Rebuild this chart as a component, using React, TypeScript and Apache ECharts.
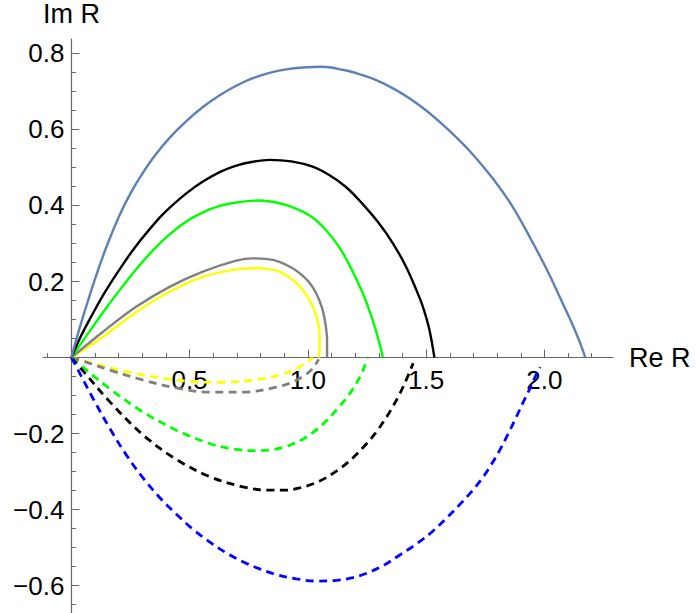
import React, { useEffect, useRef } from "react";
import * as echarts from "echarts";

// Tick values
const xMajorTicks = [0, 0.5, 1.0, 1.5, 2.0];
const xLabelValues = [0.5, 1.0, 1.5, 2.0];
const xMinorTicks = [-0.1, 0.1, 0.2, 0.3, 0.4, 0.6, 0.7, 0.8, 0.9, 1.1, 1.2, 1.3, 1.4, 1.6, 1.7, 1.8, 1.9, 2.1, 2.2];
const yMajorTicks = [-0.6, -0.4, -0.2, 0, 0.2, 0.4, 0.6, 0.8];
const yLabelValues = [-0.6, -0.4, -0.2, 0.2, 0.4, 0.6, 0.8];
const yMinorTicks = [-0.65, -0.55, -0.5, -0.45, -0.35, -0.3, -0.25, -0.15, -0.1, -0.05, 0.05, 0.1, 0.15, 0.25, 0.3, 0.35, 0.45, 0.5, 0.55, 0.65, 0.7, 0.75];

// Solid curves (upper half): [Re R, Im R]
const blueSolid = [
  [0, 0], [0.02, 0.046], [0.05, 0.109], [0.099, 0.205], [0.15, 0.294], [0.204, 0.375], [0.25, 0.432],
  [0.296, 0.48], [0.35, 0.529], [0.415, 0.578], [0.486, 0.622], [0.556, 0.659], [0.627, 0.69],
  [0.697, 0.715], [0.767, 0.735], [0.838, 0.749], [0.908, 0.758], [0.979, 0.763], [1.06, 0.765],
  [1.147, 0.757], [1.22, 0.745], [1.289, 0.73], [1.36, 0.708], [1.429, 0.682], [1.5, 0.65],
  [1.57, 0.613], [1.63, 0.578], [1.683, 0.544], [1.74, 0.503], [1.8, 0.456], [1.852, 0.41],
  [1.9, 0.36], [1.95, 0.303], [2.0, 0.244], [2.04, 0.193], [2.077, 0.143], [2.12, 0.085], [2.15, 0.04], [2.173, 0],
];
const blackSolid = [
  [0, 0], [0.04, 0.056], [0.077, 0.1], [0.14, 0.17], [0.218, 0.245], [0.275, 0.295], [0.373, 0.368],
  [0.415, 0.394], [0.486, 0.432], [0.556, 0.463], [0.627, 0.488], [0.697, 0.505], [0.767, 0.515],
  [0.838, 0.52], [0.93, 0.516], [1.02, 0.502], [1.09, 0.48], [1.162, 0.448], [1.23, 0.405],
  [1.302, 0.352], [1.36, 0.3], [1.415, 0.239], [1.455, 0.183], [1.486, 0.134], [1.513, 0.075], [1.535, 0],
];
const greenSolid = [
  [0, 0], [0.07, 0.063], [0.148, 0.131], [0.21, 0.182], [0.275, 0.233], [0.345, 0.282], [0.415, 0.324],
  [0.486, 0.358], [0.556, 0.382], [0.627, 0.399], [0.697, 0.408], [0.796, 0.413], [0.88, 0.406],
  [0.95, 0.392], [1.021, 0.368], [1.08, 0.333], [1.133, 0.29], [1.185, 0.232], [1.232, 0.169],
  [1.265, 0.115], [1.288, 0.07], [1.305, 0.032], [1.317, 0],
];
const graySolid = [
  [0, 0], [0.134, 0.068], [0.275, 0.134], [0.415, 0.186], [0.556, 0.226], [0.697, 0.255], [0.767, 0.261],
  [0.83, 0.259], [0.88, 0.252], [0.93, 0.237], [0.965, 0.222], [1.005, 0.198], [1.035, 0.169],
  [1.06, 0.13], [1.074, 0.09], [1.081, 0.046], [1.081, 0],
];
const yellowSolid = [
  [0, 0], [0.134, 0.055], [0.275, 0.12], [0.415, 0.173], [0.556, 0.212], [0.697, 0.232], [0.781, 0.235],
  [0.84, 0.232], [0.88, 0.226], [0.93, 0.207], [0.965, 0.188], [0.995, 0.163], [1.021, 0.134],
  [1.04, 0.1], [1.049, 0.06], [1.049, 0.02], [1.046, 0],
];

// Dashed curves (lower half)
const yellowDashed = [
  [0, 0], [0.091, -0.015], [0.232, -0.037], [0.373, -0.053], [0.514, -0.063], [0.655, -0.065],
  [0.796, -0.057], [0.88, -0.046], [0.95, -0.03], [1.021, 0],
];
const grayDashed = [
  [0, 0], [0.063, -0.012], [0.162, -0.033], [0.302, -0.059], [0.444, -0.08], [0.584, -0.091],
  [0.725, -0.091], [0.866, -0.078], [0.936, -0.064], [0.993, -0.044], [1.025, -0.025], [1.045, -0.005],
];
const greenDashed = [
  [0, 0], [0.056, -0.029], [0.162, -0.082], [0.302, -0.143], [0.444, -0.191], [0.584, -0.226],
  [0.68, -0.24], [0.767, -0.245], [0.84, -0.243], [0.908, -0.234], [0.978, -0.215], [1.03, -0.193],
  [1.077, -0.167], [1.13, -0.131], [1.176, -0.096], [1.21, -0.062], [1.232, -0.035], [1.253, -0.002],
];
const blackDashed = [
  [0, 0], [0.049, -0.035], [0.162, -0.116], [0.302, -0.203], [0.444, -0.268], [0.584, -0.313],
  [0.725, -0.34], [0.838, -0.349], [0.9, -0.349], [0.965, -0.343], [1.05, -0.325], [1.133, -0.293],
  [1.19, -0.264], [1.246, -0.228], [1.29, -0.195], [1.331, -0.158], [1.36, -0.128], [1.387, -0.097],
  [1.415, -0.06], [1.445, -0.015],
];
const blueDashed = [
  [0, 0], [0.014, -0.016], [0.091, -0.107], [0.162, -0.186], [0.232, -0.256], [0.302, -0.316],
  [0.373, -0.368], [0.444, -0.412], [0.514, -0.452], [0.584, -0.485], [0.655, -0.514], [0.725, -0.537],
  [0.796, -0.556], [0.866, -0.571], [0.95, -0.582], [1.035, -0.588], [1.12, -0.586], [1.19, -0.579],
  [1.246, -0.568], [1.317, -0.548], [1.387, -0.52], [1.46, -0.49], [1.528, -0.457], [1.59, -0.42],
  [1.64, -0.388], [1.69, -0.354], [1.739, -0.316], [1.775, -0.282], [1.809, -0.246], [1.845, -0.203],
  [1.88, -0.158], [1.91, -0.118], [1.936, -0.085], [1.96, -0.052], [1.982, -0.025],
];

const FONT = "Liberation Sans, Arial, sans-serif";
const AXIS_COLOR = "#666666";
const GRID = { left: 43, top: 39, width: 570, height: 574 };
const X_RANGE = [-0.12, 2.29];
const Y_RANGE = [-0.672, 0.838];

function fmt(v: number): string {
  return v.toFixed(1).replace("-", "\u2212");
}

export default function App() {
  const ref = useRef<HTMLDivElement>(null);
  useEffect(() => {
    if (!ref.current) return;
    const chart = echarts.init(ref.current, undefined, { renderer: "svg" });
    const solid = (data: number[][], color: string) => ({
      type: "line",
      data,
      smooth: 0.35,
      showSymbol: false,
      symbol: "none",
      lineStyle: { color, width: 2.4 },
      xAxisIndex: 0,
      yAxisIndex: 0,
    });
    const dashed = (data: number[][], color: string) => ({
      type: "line",
      data,
      smooth: 0.35,
      showSymbol: false,
      symbol: "none",
      lineStyle: { color, width: 2.8, type: [8, 5.5] },
      xAxisIndex: 0,
      yAxisIndex: 0,
    });
    const labelStyle = { fontSize: 26, fontFamily: FONT, color: "#000" };
    const nameStyle = { fontSize: 27, fontFamily: FONT, color: "#000" };
    chart.setOption({
      animation: false,
      backgroundColor: "#ffffff",
      grid: { ...GRID, containLabel: false, outerBoundsMode: "none" },
      xAxis: [
        {
          type: "value", min: X_RANGE[0], max: X_RANGE[1], position: "bottom",
          axisLine: { show: true, onZero: false, lineStyle: { color: AXIS_COLOR, width: 1.2 } },
          axisTick: { show: true, inside: true, length: 8, customValues: xMajorTicks, lineStyle: { color: AXIS_COLOR } },
          axisLabel: { show: true, customValues: xLabelValues, formatter: (v: number) => fmt(v), ...labelStyle, margin: 9 },
          splitLine: { show: false },
          name: "Re R", nameLocation: "end", nameGap: 16,
          nameTextStyle: nameStyle,
        },
        {
          type: "value", min: X_RANGE[0], max: X_RANGE[1], position: "bottom",
          axisLine: { show: false, onZero: false },
          axisTick: { show: true, inside: true, length: 4.5, customValues: xMinorTicks, lineStyle: { color: AXIS_COLOR } },
          axisLabel: { show: false },
          splitLine: { show: false },
        },
      ],
      yAxis: [
        {
          type: "value", min: Y_RANGE[0], max: Y_RANGE[1], position: "left",
          axisLine: { show: true, onZero: false, lineStyle: { color: AXIS_COLOR, width: 1.2 } },
          axisTick: { show: true, inside: true, length: 8, customValues: yMajorTicks, lineStyle: { color: AXIS_COLOR } },
          axisLabel: { show: true, customValues: yLabelValues, formatter: (v: number) => fmt(v), ...labelStyle, margin: 7 },
          splitLine: { show: false },
          name: "Im R", nameLocation: "end", nameGap: 12,
          nameTextStyle: nameStyle,
        },
        {
          type: "value", min: Y_RANGE[0], max: Y_RANGE[1], position: "left",
          axisLine: { show: false, onZero: false },
          axisTick: { show: true, inside: true, length: 4.5, customValues: yMinorTicks, lineStyle: { color: AXIS_COLOR } },
          axisLabel: { show: false },
          splitLine: { show: false },
        },
      ],
      series: [
        dashed(yellowDashed, "#ffff00"),
        dashed(grayDashed, "#808080"),
        dashed(greenDashed, "#00ff00"),
        dashed(blackDashed, "#000000"),
        dashed(blueDashed, "#0000ff"),
        solid(yellowSolid, "#ffff00"),
        solid(graySolid, "#808080"),
        solid(greenSolid, "#00ff00"),
        solid(blackSolid, "#000000"),
        solid(blueSolid, "#5e81b5"),
      ],
    });
    // Move both axes so they cross at the data origin, using the chart's own scale.
    const origin = chart.convertToPixel({ gridIndex: 0 }, [0, 0]) as number[];
    const xOff = -(GRID.top + GRID.height - origin[1]);
    const yOff = -(origin[0] - GRID.left);
    chart.setOption({
      xAxis: [{ offset: xOff }, { offset: xOff }],
      yAxis: [{ offset: yOff }, { offset: yOff }],
    });
    return () => chart.dispose();
  }, []);
  return (
    <div
      ref={ref}
      style={{ position: "absolute", left: 0, top: 0, width: 696, height: 613, background: "#fff" }}
    />
  );
}
